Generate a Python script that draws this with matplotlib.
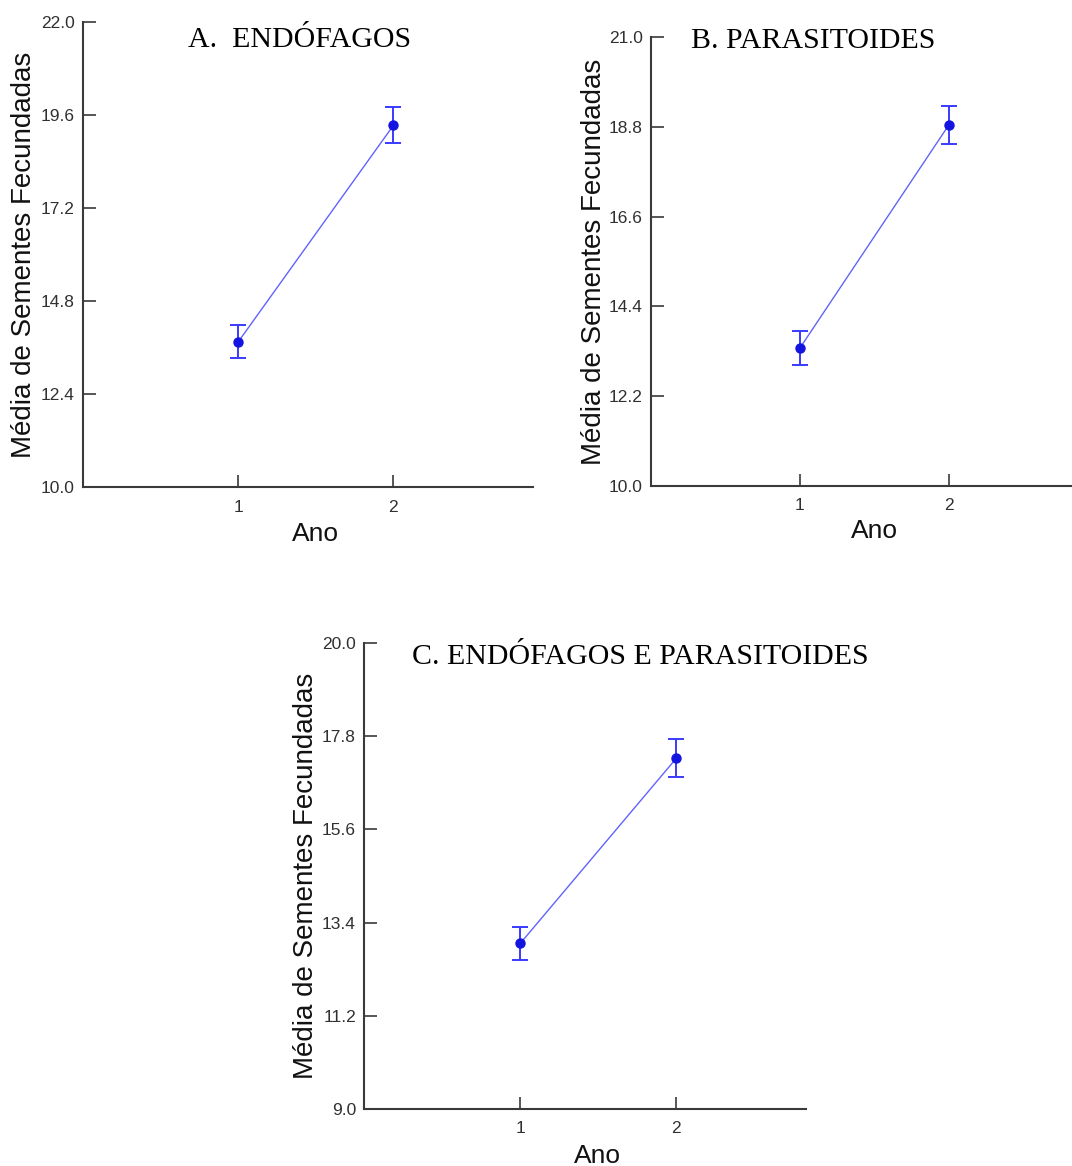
import matplotlib
matplotlib.use("Agg")
import matplotlib.pyplot as plt

# Médias de sementes fecundadas por ano (com erro padrão)
anos = [1, 2]
endofagos_media = [13.75, 19.33]
endofagos_ep = [0.43, 0.46]
parasitoides_media = [13.38, 18.85]
parasitoides_ep = [0.41, 0.46]
ambos_media = [12.91, 17.28]
ambos_ep = [0.39, 0.45]

ticks_a = [10.0, 12.4, 14.8, 17.2, 19.6, 22.0]
ticks_b = [10.0, 12.2, 14.4, 16.6, 18.8, 21.0]
ticks_c = [9.0, 11.2, 13.4, 15.6, 17.8, 20.0]

AXIS_COLOR = '#3a3a3a'
SANS = ['Liberation Sans', 'DejaVu Sans']
SERIF = ['Liberation Serif', 'DejaVu Serif']

fig = plt.figure(figsize=(10.72, 11.66), dpi=100)
fig.patch.set_facecolor('white')


def draw_panel(rect, media, ep, yticks, xmax, title, title_xy, ylabel_x, xlabel_xy):
    ax = fig.add_axes(rect)
    ax.plot(anos, media, color='#6262ff', linewidth=1.0, zorder=2)
    ax.errorbar(anos, media, yerr=ep, fmt='o', color='#1414e0', ecolor='#3a3aff',
                markersize=6.5, elinewidth=1.4, capsize=5.5, capthick=1.4, zorder=3)

    ax.set_ylim(yticks[0], yticks[-1])
    ax.set_xlim(0, xmax)
    ax.set_yticks(yticks)
    ax.set_yticklabels([f"{t:.1f}" for t in yticks])
    ax.set_xticks(anos)
    ax.set_xticklabels([str(a) for a in anos])

    for side in ['top', 'right']:
        ax.spines[side].set_visible(False)
    for side in ['left', 'bottom']:
        ax.spines[side].set_color(AXIS_COLOR)
        ax.spines[side].set_linewidth(1.5)

    ax.tick_params(axis='both', direction='in', length=9, width=1.2, color=AXIS_COLOR,
                   labelsize=12.5, labelcolor='#303030')
    ax.tick_params(axis='y', pad=6)
    ax.tick_params(axis='x', pad=9)
    for lbl in ax.get_xticklabels() + ax.get_yticklabels():
        lbl.set_family(SANS)

    ax.set_ylabel('Média de Sementes Fecundadas', fontsize=20, family=SANS, color='#111111')
    ax.yaxis.set_label_coords(ylabel_x, 0.5)
    ax.set_xlabel('Ano', fontsize=19, family=SANS, color='#111111')
    ax.xaxis.set_label_coords(*xlabel_xy)

    ax.text(title_xy[0], title_xy[1], title, transform=ax.transAxes, ha='center', va='center',
            fontsize=21.5, family=SERIF, color='black')
    return ax


# A. Endófagos
draw_panel([0.0777, 0.5823, 0.4195, 0.399], endofagos_media, endofagos_ep, ticks_a, 2.9,
           'A.  ENDÓFAGOS', (0.482, 0.961), -0.102, (0.517, -0.075))

# B. Parasitoides
draw_panel([0.6073, 0.5834, 0.403, 0.3848], parasitoides_media, parasitoides_ep, ticks_b, 2.9,
           'B. PARASITOIDES', (0.375, 0.992), -0.102, (0.518, -0.075))

# C. Endófagos e parasitoides
draw_panel([0.3398, 0.0489, 0.412, 0.3997], ambos_media, ambos_ep, ticks_c, 2.83,
           'C. ENDÓFAGOS E PARASITOIDES', (0.624, 0.970), -0.102, (0.527, -0.075))

fig.savefig('out.png', dpi=100, facecolor='white')
